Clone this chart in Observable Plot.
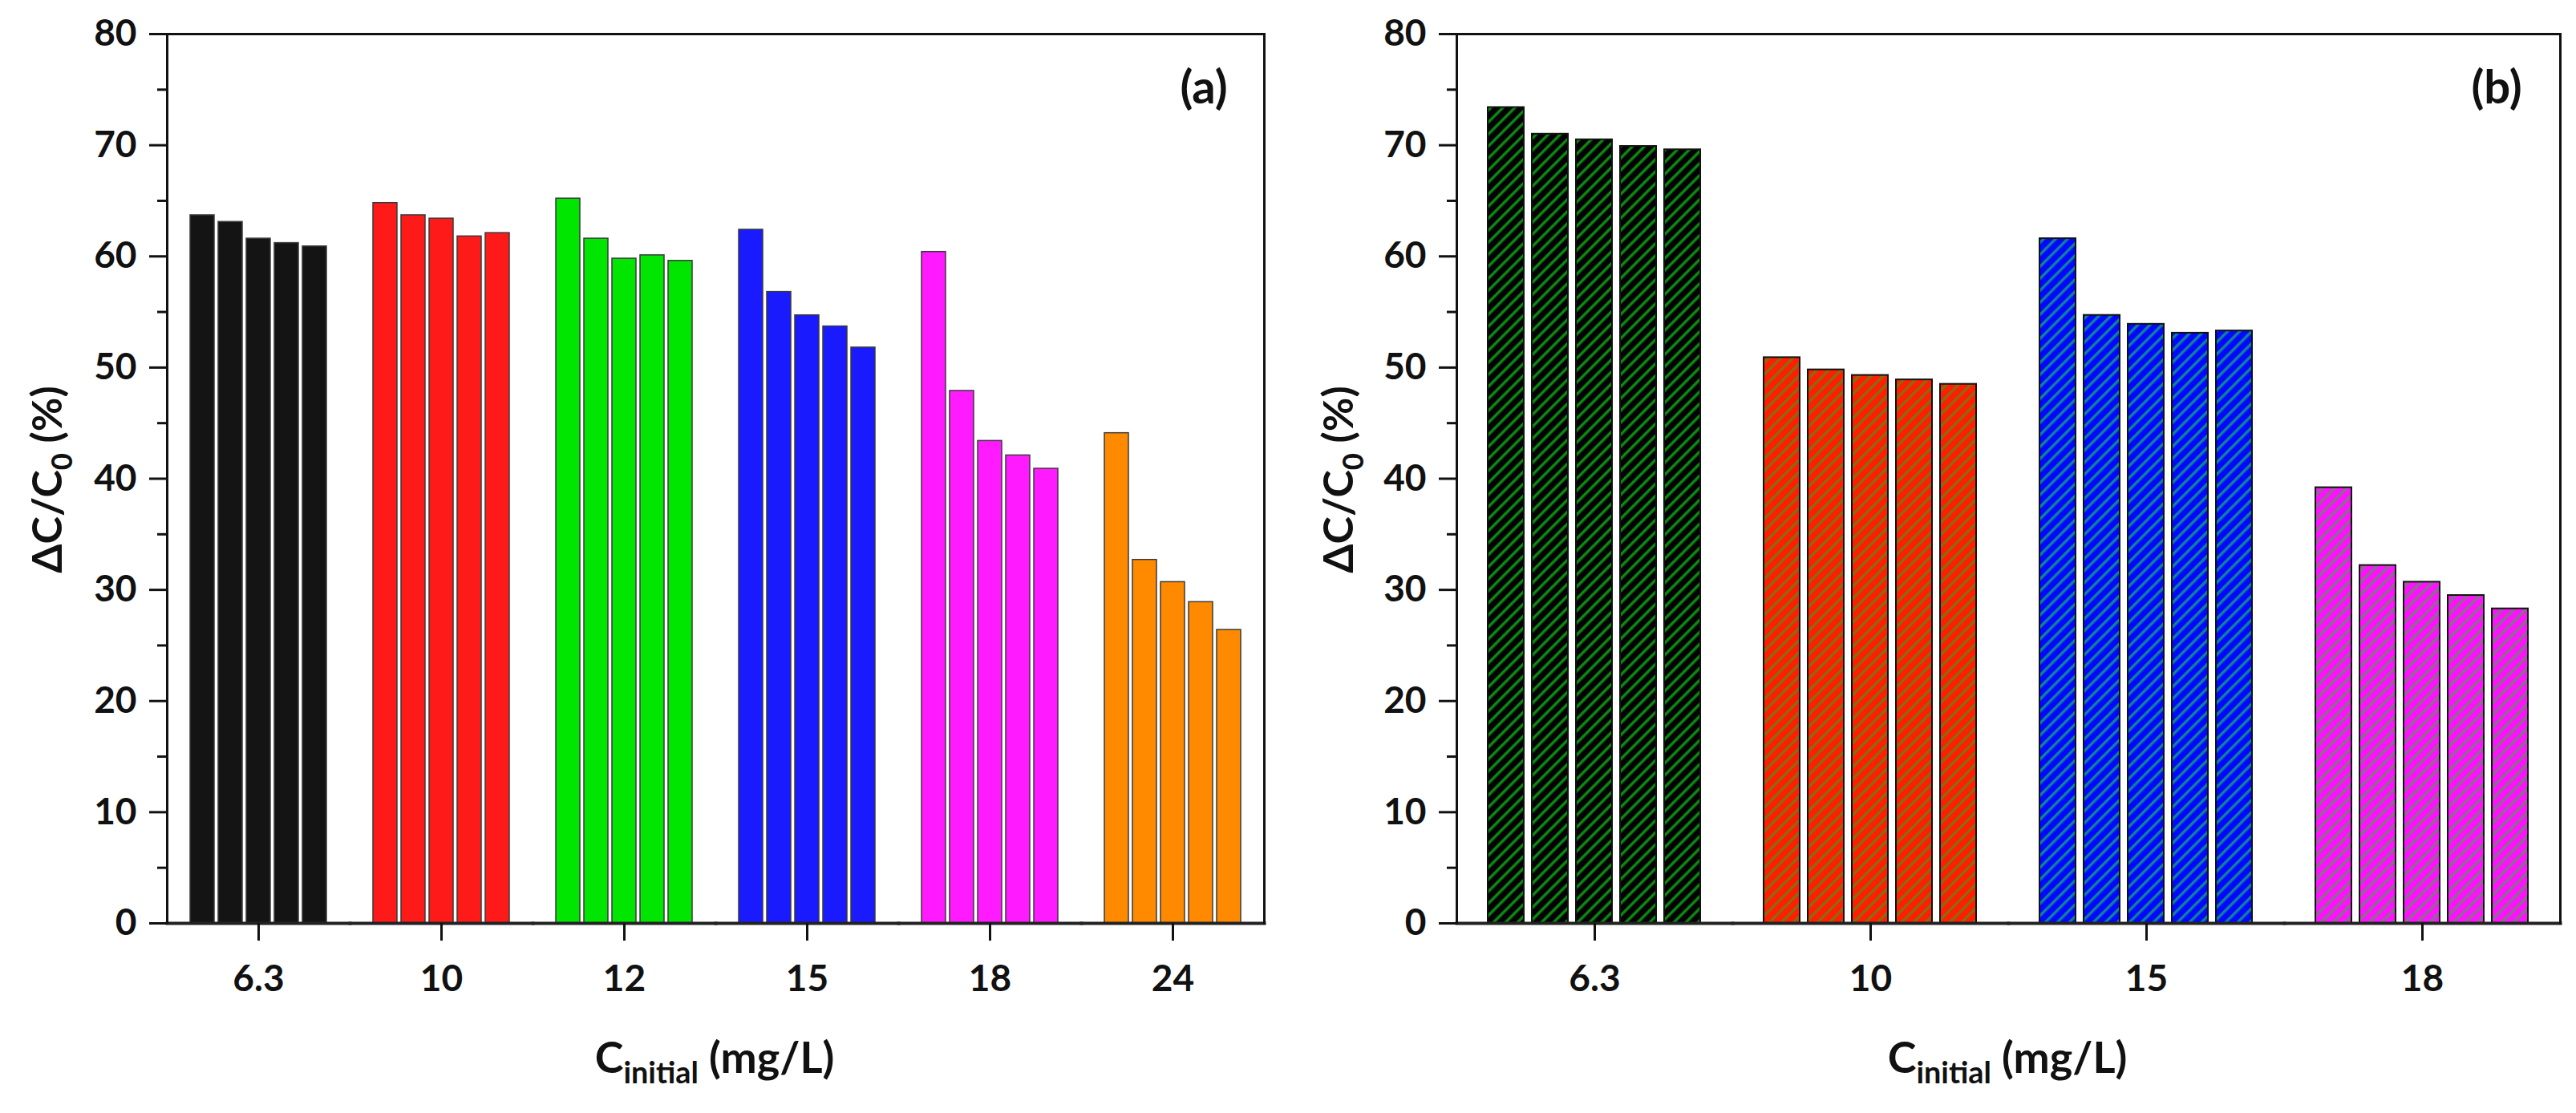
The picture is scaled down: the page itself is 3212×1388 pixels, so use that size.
<!DOCTYPE html>
<html>
<head>
<meta charset="utf-8">
<script src="https://cdn.jsdelivr.net/npm/d3@7"></script>
<script src="https://cdn.jsdelivr.net/npm/@observablehq/plot@0.6"></script>
<style>
  html, body { margin: 0; padding: 0; background: #fff; }
  #page { position: relative; width: 3212px; height: 1388px; overflow: hidden; background: #fff;
          font-family: Lato, "Open Sans", sans-serif; font-weight: bold; color: #111; }
  .panel { position: absolute; top: 0; }
  .lbl { position: absolute; white-space: nowrap; line-height: 1; }
  .lbl sub { font-size: 0.7em; vertical-align: -0.35em; line-height: 0; }
  .ytitle { font-size: 52px; transform: translate(-50%, -50%) rotate(-90deg); }
  .xtitle { font-size: 54px; transform: translate(-50%, -50%); }
  .tag { font-size: 58px; transform: translate(-50%, -50%); }
</style>
</head>
<body>
<svg width="0" height="0" style="position:absolute">
  <defs>
    <pattern id="hatch0" patternUnits="userSpaceOnUse" width="10.6" height="10.6" patternTransform="rotate(45)">
      <rect width="10.6" height="10.6" fill="#030303"></rect>
      <rect width="3.4" height="10.6" fill="#0b8a12"></rect>
    </pattern>
    <pattern id="hatch1" patternUnits="userSpaceOnUse" width="10.6" height="10.6" patternTransform="rotate(45)">
      <rect width="10.6" height="10.6" fill="#ff1e00"></rect>
      <rect width="3.4" height="10.6" fill="#8a6a12"></rect>
    </pattern>
    <pattern id="hatch2" patternUnits="userSpaceOnUse" width="10.6" height="10.6" patternTransform="rotate(45)">
      <rect width="10.6" height="10.6" fill="#0008ff"></rect>
      <rect width="3.4" height="10.6" fill="#12809a"></rect>
    </pattern>
    <pattern id="hatch3" patternUnits="userSpaceOnUse" width="10.6" height="10.6" patternTransform="rotate(45)">
      <rect width="10.6" height="10.6" fill="#ff10ff"></rect>
      <rect width="3.4" height="10.6" fill="#86708a"></rect>
    </pattern>
  </defs>
</svg>
<div id="page">
  <div id="pa" class="panel" style="left:0px"></div>
  <div id="pb" class="panel" style="left:1600px"></div>
  <div class="lbl ytitle" style="left:57px; top:598px">ΔC/C<sub>0</sub> (%)</div>
  <div class="lbl ytitle" style="left:1667px; top:598px">ΔC/C<sub>0</sub> (%)</div>
  <div class="lbl xtitle" style="left:891px; top:1318px">C<sub>initial</sub> (mg/L)</div>
  <div class="lbl xtitle" style="left:2503px; top:1318px">C<sub>initial</sub> (mg/L)</div>
  <div class="lbl tag" style="left:1501px; top:107px">(a)</div>
  <div class="lbl tag" style="left:3113px; top:107px">(b)</div>
</div>
<script>
// ---------- data ----------
const yMajor = [0, 10, 20, 30, 40, 50, 60, 70, 80];
const yMinor = [5, 15, 25, 35, 45, 55, 65, 75];
const barIndex = [0, 1, 2, 3, 4];

// Panel (a)
const groupsA = ["6.3", "10", "12", "15", "18", "24"];
const colorsA = ["#141414", "#ff1a1a", "#00e600", "#1a1aff", "#ff1aff", "#ff8a00"];
const a_6_3 = [63.7, 63.1, 61.6, 61.2, 60.9];
const a_10  = [64.8, 63.7, 63.4, 61.8, 62.1];
const a_12  = [65.2, 61.6, 59.8, 60.1, 59.6];
const a_15  = [62.4, 56.8, 54.7, 53.7, 51.8];
const a_18  = [60.4, 47.9, 43.4, 42.1, 40.9];
const a_24  = [44.1, 32.7, 30.7, 28.9, 26.4];
const seriesA = [a_6_3, a_10, a_12, a_15, a_18, a_24];

// Panel (b)
const groupsB = ["6.3", "10", "15", "18"];
const fillsB = ["url(#hatch0)", "url(#hatch1)", "url(#hatch2)", "url(#hatch3)"];
const b_6_3 = [73.4, 71.0, 70.5, 69.9, 69.6];
const b_10  = [50.9, 49.8, 49.3, 48.9, 48.5];
const b_15  = [61.6, 54.7, 53.9, 53.1, 53.3];
const b_18  = [39.2, 32.2, 30.7, 29.5, 28.3];
const seriesB = [b_6_3, b_10, b_15, b_18];

// ---------- tables ----------
const rowsA = groupsA.flatMap((g, i) => seriesA[i].map((v, j) => ({group: g, idx: barIndex[j], value: v, fill: colorsA[i]})));
const rowsB = groupsB.flatMap((g, i) => seriesB[i].map((v, j) => ({group: g, idx: barIndex[j], value: v, fill: fillsB[i]})));

const fontStyle = {fontFamily: "Lato, 'Open Sans', sans-serif", fontWeight: "bold", background: "transparent", color: "#111", overflow: "visible"};

function panel(rows, groups, opts) {
  return Plot.plot({
    width: opts.width, height: 1388,
    marginLeft: opts.ml, marginRight: opts.mr, marginTop: 42, marginBottom: 237,
    fx: {domain: groups, padding: 0, label: null},
    x: {domain: barIndex, paddingInner: opts.pi, paddingOuter: opts.po, axis: null},
    y: {domain: [0, 80]},
    color: {type: "identity"},
    style: fontStyle,
    marks: [
      Plot.barY(rows, {fx: "group", x: "idx", y: "value", fill: "fill", stroke: opts.stroke, strokeWidth: opts.sw}),
      Plot.frame({anchor: "top", stroke: "#111", strokeWidth: 3}),
      Plot.frame({anchor: "bottom", stroke: "#222", strokeWidth: 4}),
      Plot.frame({anchor: "left", stroke: "#111", strokeWidth: 3, facetAnchor: "left"}),
      Plot.frame({anchor: "right", stroke: "#111", strokeWidth: 3, facetAnchor: "right"}),
      Plot.axisY({ticks: yMajor, tickSize: 22, tickPadding: 16, fontSize: 46, strokeWidth: 3, label: null}),
      Plot.axisY({ticks: yMinor, tickSize: 12, tickFormat: () => "", strokeWidth: 3, label: null}),
      Plot.axisFx({anchor: "bottom", tickSize: 22, tickPadding: 30, fontSize: 46, strokeWidth: 3, label: null})
    ]
  });
}

document.getElementById("pa").append(panel(rowsA, groupsA, {width: 1600, ml: 205, mr: 22, pi: 0.14, po: 0.745, stroke: "#3a3a3a", sw: 1.5}));
document.getElementById("pb").append(panel(rowsB, groupsB, {width: 1612, ml: 215, mr: 20, pi: 0.18, po: 0.71, stroke: "#111", sw: 2}));
</script>
</body>
</html>
